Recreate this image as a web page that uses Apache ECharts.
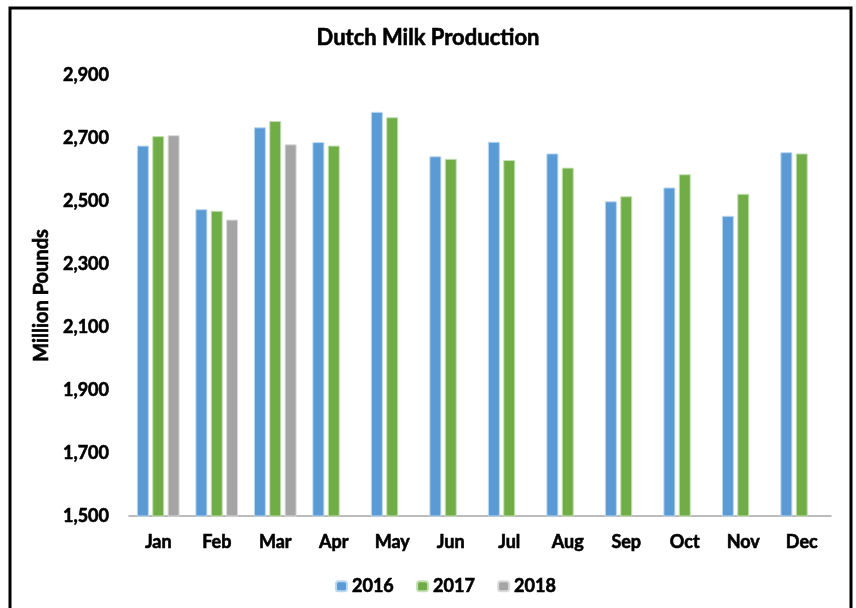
<!DOCTYPE html>
<html>
<head>
<meta charset="utf-8">
<script src="https://cdn.jsdelivr.net/npm/echarts@6/dist/echarts.min.js"></script>
<style>html,body{margin:0;padding:0;background:#fff;}#c{width:856px;height:608px;}</style>
</head>
<body>
<div id="c"></div>
<script>
const months = ['Jan','Feb','Mar','Apr','May','Jun','Jul','Aug','Sep','Oct','Nov','Dec'];
const yearNames = ['2016','2017','2018'];
const s2016 = [2676, 2474, 2734, 2687, 2783, 2642, 2688, 2651, 2499, 2543, 2453, 2655];
const s2017 = [2706, 2469, 2754, 2676, 2766, 2634, 2630, 2606, 2515, 2585, 2523, 2651];
const s2018 = [2709, 2441, 2680, null, null, null, null, null, null, null, null, null];
const yTicks = [1500, 1700, 1900, 2100, 2300, 2500, 2700, 2900];

const colors = ['#5B9BD5', '#70AD47', '#A5A5A5'];
const borders = ['#BDD7EE', '#C5E0B4', '#DBDBDB'];
const FONT = 'Lato';
const heavy = {fontFamily: FONT, fontWeight: 'bold', color: '#000', textBorderColor: '#000', textBorderWidth: 0.6};
const chart = echarts.init(document.getElementById('c'));
const seriesData = [s2016, s2017, s2018];
chart.setOption({
  animation: false,
  backgroundColor: '#fff',
  title: {
    text: 'Dutch Milk Production',
    left: 'center', top: 22,
    textStyle: Object.assign({}, heavy, {fontSize: 22})
  },
  legend: {
    data: yearNames, left: 330, top: 572,
    itemWidth: 11, itemHeight: 10, itemGap: 22,
    textStyle: Object.assign({}, heavy, {fontSize: 18})
  },
  grid: {left: 129, right: 25, top: 75, bottom: 92, containLabel: false},
  xAxis: {
    type: 'category', data: months,
    axisLine: {lineStyle: {color: '#A6A6A6', width: 1.5}},
    axisTick: {show: false},
    axisLabel: Object.assign({}, heavy, {margin: 17, fontSize: 18})
  },
  yAxis: {
    type: 'value', min: yTicks[0], max: yTicks[yTicks.length - 1], interval: 200,
    name: 'Million Pounds', nameLocation: 'middle', nameGap: 72, nameRotate: 90,
    nameTextStyle: Object.assign({}, heavy, {fontSize: 20}),
    axisLine: {show: false}, axisTick: {show: false}, splitLine: {show: false},
    axisLabel: Object.assign({}, heavy, {
      margin: 20, fontSize: 18,
      formatter: v => v.toLocaleString('en-US')
    })
  },
  series: yearNames.map((n, i) => ({
    name: n, type: 'bar', data: seriesData[i],
    barWidth: 12, barGap: '28%',
    itemStyle: {color: colors[i], borderColor: borders[i], borderWidth: 1}
  })),
  graphic: [{
    type: 'rect', z: 100,
    shape: {x: 10, y: 8, width: 841, height: 620},
    style: {fill: 'none', stroke: '#000', lineWidth: 3}
  }]
});
</script>
</body>
</html>
